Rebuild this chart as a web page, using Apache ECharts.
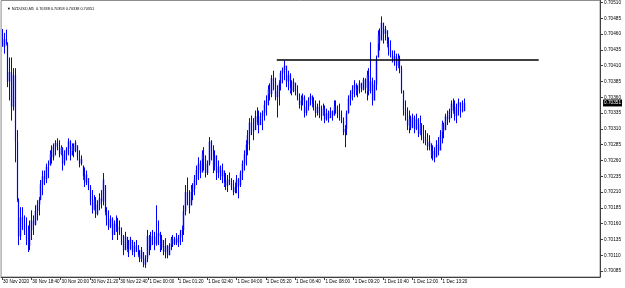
<!DOCTYPE html>
<html><head><meta charset="utf-8">
<script src="https://cdn.jsdelivr.net/npm/echarts@6/dist/echarts.min.js"></script>
<style>html,body{margin:0;padding:0;background:#fff}#c{width:625px;height:288px}</style>
</head><body><div id="c"></div>
<script>
const chartTitle = '\u25BC NZDUSD,M5  0.70338 0.70358 0.70338 0.70351';
const tickLabels = ['30 Nov 2020','30 Nov 18:40','30 Nov 20:00','30 Nov 21:20','30 Nov 22:40','1 Dec 00:00','1 Dec 01:20','1 Dec 02:40','1 Dec 04:00','1 Dec 05:20','1 Dec 06:40','1 Dec 08:00','1 Dec 09:20','1 Dec 10:40','1 Dec 12:00','1 Dec 13:20'];
const priceTicks = [0.70085,0.70110,0.70135,0.70160,0.70185,0.70210,0.70235,0.70260,0.70285,0.70310,0.70335,0.70360,0.70385,0.70410,0.70435,0.70460,0.70485,0.70510];
const levelPrice = 0.70420;
const levelFromBar = 150, levelToBar = 293;
const lastPrice = 0.70351;

const barOpen = [
0.70455,0.70440,0.70452,0.70445,0.70385,0.70400,0.70345,0.70395,0.70290,0.70197,
0.70140,0.70170,0.70160,0.70150,0.70135,0.70125,0.70150,0.70165,0.70158,0.70180,
0.70190,0.70198,0.70222,0.70235,0.70230,0.70250,0.70252,0.70270,0.70265,0.70282,
0.70288,0.70280,0.70270,0.70280,0.70255,0.70270,0.70278,0.70290,0.70268,0.70283,
0.70275,0.70284,0.70265,0.70255,0.70252,0.70235,0.70225,0.70232,0.70218,0.70195,
0.70182,0.70198,0.70175,0.70190,0.70200,0.70195,0.70221,0.70178,0.70165,0.70155,
0.70168,0.70142,0.70160,0.70150,0.70155,0.70145,0.70130,0.70118,0.70139,0.70120,
0.70120,0.70134,0.70115,0.70125,0.70120,0.70110,0.70104,0.70115,0.70095,0.70105,
0.70140,0.70125,0.70140,0.70132,0.70128,0.70140,0.70145,0.70122,0.70134,0.70115,
0.70125,0.70110,0.70125,0.70135,0.70128,0.70136,0.70130,0.70138,0.70145,0.70150,
0.70180,0.70210,0.70200,0.70189,0.70210,0.70215,0.70230,0.70245,0.70255,0.70241,
0.70270,0.70262,0.70240,0.70255,0.70290,0.70275,0.70250,0.70268,0.70240,0.70250,
0.70235,0.70244,0.70225,0.70220,0.70230,0.70225,0.70218,0.70210,0.70218,0.70230,
0.70221,0.70240,0.70255,0.70270,0.70285,0.70300,0.70320,0.70310,0.70308,0.70330,
0.70320,0.70316,0.70330,0.70335,0.70348,0.70355,0.70372,0.70365,0.70390,0.70385,
0.70360,0.70370,0.70382,0.70398,0.70403,0.70410,0.70385,0.70395,0.70375,0.70370,
0.70383,0.70368,0.70360,0.70348,0.70355,0.70360,0.70335,0.70345,0.70355,0.70362,
0.70350,0.70345,0.70335,0.70345,0.70332,0.70331,0.70342,0.70325,0.70335,0.70327,
0.70338,0.70331,0.70345,0.70340,0.70335,0.70330,0.70322,0.70305,0.70310,0.70335,
0.70358,0.70365,0.70372,0.70380,0.70370,0.70375,0.70382,0.70372,0.70388,0.70375,
0.70395,0.70370,0.70385,0.70355,0.70380,0.70423,0.70458,0.70450,0.70478,0.70460,
0.70466,0.70445,0.70435,0.70428,0.70420,0.70425,0.70410,0.70422,0.70405,0.70370,
0.70340,0.70330,0.70315,0.70325,0.70312,0.70328,0.70310,0.70325,0.70302,0.70318,
0.70298,0.70295,0.70288,0.70282,0.70287,0.70268,0.70275,0.70265,0.70285,0.70276,
0.70300,0.70318,0.70308,0.70330,0.70325,0.70338,0.70350,0.70340,0.70330,0.70345,
0.70352,0.70340,0.70338];

const barHigh = [
0.70468,0.70462,0.70467,0.70447,0.70423,0.70423,0.70406,0.70406,0.70308,0.70200,
0.70186,0.70186,0.70173,0.70170,0.70157,0.70165,0.70181,0.70173,0.70189,0.70197,
0.70202,0.70229,0.70244,0.70244,0.70255,0.70260,0.70276,0.70284,0.70287,0.70292,
0.70295,0.70292,0.70284,0.70281,0.70276,0.70281,0.70295,0.70292,0.70287,0.70287,
0.70292,0.70284,0.70276,0.70268,0.70252,0.70249,0.70244,0.70232,0.70221,0.70213,
0.70205,0.70202,0.70197,0.70208,0.70213,0.70240,0.70221,0.70186,0.70181,0.70173,
0.70170,0.70165,0.70173,0.70169,0.70165,0.70154,0.70142,0.70147,0.70139,0.70134,
0.70139,0.70134,0.70131,0.70134,0.70126,0.70118,0.70123,0.70115,0.70110,0.70150,
0.70142,0.70147,0.70150,0.70147,0.70189,0.70165,0.70147,0.70142,0.70134,0.70137,
0.70126,0.70129,0.70139,0.70142,0.70139,0.70145,0.70142,0.70150,0.70157,0.70189,
0.70221,0.70233,0.70213,0.70221,0.70224,0.70237,0.70252,0.70265,0.70260,0.70276,
0.70281,0.70268,0.70260,0.70297,0.70292,0.70284,0.70276,0.70268,0.70260,0.70252,
0.70255,0.70244,0.70240,0.70237,0.70241,0.70232,0.70229,0.70225,0.70237,0.70232,
0.70244,0.70260,0.70276,0.70292,0.70308,0.70327,0.70331,0.70327,0.70339,0.70344,
0.70339,0.70336,0.70339,0.70355,0.70363,0.70379,0.70382,0.70395,0.70402,0.70391,
0.70379,0.70387,0.70402,0.70407,0.70418,0.70410,0.70402,0.70398,0.70387,0.70390,
0.70383,0.70379,0.70366,0.70363,0.70366,0.70363,0.70355,0.70360,0.70366,0.70363,
0.70360,0.70355,0.70350,0.70355,0.70347,0.70350,0.70347,0.70342,0.70339,0.70344,
0.70339,0.70355,0.70355,0.70347,0.70350,0.70339,0.70328,0.70316,0.70339,0.70363,
0.70371,0.70379,0.70387,0.70382,0.70379,0.70387,0.70383,0.70391,0.70390,0.70402,
0.70406,0.70447,0.70391,0.70387,0.70426,0.70466,0.70469,0.70488,0.70478,0.70473,
0.70466,0.70455,0.70450,0.70434,0.70434,0.70429,0.70429,0.70426,0.70410,0.70371,
0.70355,0.70344,0.70339,0.70331,0.70334,0.70331,0.70334,0.70327,0.70331,0.70319,
0.70316,0.70308,0.70303,0.70300,0.70287,0.70284,0.70281,0.70292,0.70297,0.70308,
0.70323,0.70320,0.70334,0.70339,0.70342,0.70355,0.70358,0.70355,0.70350,0.70358,
0.70352,0.70355,0.70358];

const barLow = [
0.70440,0.70429,0.70442,0.70376,0.70355,0.70323,0.70339,0.70257,0.70194,0.70126,
0.70134,0.70150,0.70142,0.70126,0.70115,0.70118,0.70134,0.70142,0.70157,0.70165,
0.70173,0.70197,0.70205,0.70221,0.70224,0.70232,0.70252,0.70255,0.70260,0.70268,
0.70276,0.70265,0.70268,0.70244,0.70252,0.70260,0.70268,0.70260,0.70268,0.70265,
0.70273,0.70260,0.70249,0.70252,0.70229,0.70218,0.70221,0.70213,0.70189,0.70176,
0.70181,0.70169,0.70173,0.70181,0.70184,0.70189,0.70173,0.70157,0.70150,0.70153,
0.70134,0.70142,0.70147,0.70134,0.70142,0.70126,0.70110,0.70118,0.70115,0.70107,
0.70118,0.70110,0.70107,0.70115,0.70107,0.70099,0.70099,0.70091,0.70090,0.70099,
0.70110,0.70118,0.70126,0.70118,0.70125,0.70126,0.70115,0.70118,0.70110,0.70105,
0.70105,0.70110,0.70118,0.70123,0.70126,0.70126,0.70123,0.70126,0.70131,0.70142,
0.70173,0.70189,0.70176,0.70189,0.70197,0.70205,0.70221,0.70229,0.70232,0.70241,
0.70244,0.70233,0.70237,0.70252,0.70260,0.70240,0.70244,0.70229,0.70232,0.70229,
0.70224,0.70218,0.70213,0.70210,0.70221,0.70213,0.70205,0.70208,0.70208,0.70200,
0.70218,0.70229,0.70244,0.70252,0.70268,0.70276,0.70300,0.70292,0.70308,0.70316,
0.70303,0.70316,0.70308,0.70323,0.70331,0.70347,0.70355,0.70360,0.70371,0.70355,
0.70328,0.70347,0.70371,0.70382,0.70387,0.70376,0.70371,0.70366,0.70363,0.70368,
0.70363,0.70355,0.70342,0.70339,0.70347,0.70328,0.70331,0.70339,0.70347,0.70344,
0.70339,0.70328,0.70331,0.70327,0.70323,0.70331,0.70319,0.70323,0.70320,0.70327,
0.70323,0.70331,0.70334,0.70327,0.70323,0.70319,0.70300,0.70281,0.70300,0.70334,
0.70347,0.70355,0.70360,0.70363,0.70360,0.70366,0.70368,0.70371,0.70366,0.70355,
0.70363,0.70366,0.70347,0.70355,0.70371,0.70423,0.70434,0.70450,0.70445,0.70450,
0.70439,0.70426,0.70423,0.70415,0.70410,0.70402,0.70406,0.70398,0.70366,0.70331,
0.70323,0.70308,0.70303,0.70308,0.70311,0.70303,0.70308,0.70297,0.70300,0.70292,
0.70287,0.70284,0.70276,0.70276,0.70263,0.70260,0.70257,0.70265,0.70268,0.70276,
0.70287,0.70295,0.70308,0.70316,0.70320,0.70327,0.70334,0.70323,0.70319,0.70331,
0.70328,0.70336,0.70338];

const barClose = [
0.70440,0.70452,0.70445,0.70385,0.70400,0.70345,0.70395,0.70290,0.70200,0.70140,
0.70170,0.70160,0.70150,0.70135,0.70125,0.70150,0.70165,0.70158,0.70180,0.70190,
0.70198,0.70222,0.70235,0.70230,0.70250,0.70245,0.70270,0.70265,0.70282,0.70288,
0.70280,0.70270,0.70280,0.70255,0.70270,0.70278,0.70290,0.70268,0.70283,0.70275,
0.70288,0.70265,0.70255,0.70262,0.70235,0.70225,0.70238,0.70218,0.70195,0.70182,
0.70198,0.70175,0.70190,0.70200,0.70195,0.70230,0.70178,0.70165,0.70155,0.70168,
0.70142,0.70160,0.70150,0.70155,0.70145,0.70130,0.70118,0.70140,0.70120,0.70112,
0.70135,0.70115,0.70125,0.70120,0.70110,0.70104,0.70118,0.70095,0.70105,0.70140,
0.70125,0.70140,0.70132,0.70128,0.70140,0.70145,0.70122,0.70135,0.70115,0.70125,
0.70110,0.70125,0.70135,0.70128,0.70136,0.70130,0.70138,0.70145,0.70150,0.70180,
0.70210,0.70200,0.70185,0.70210,0.70215,0.70230,0.70245,0.70255,0.70240,0.70270,
0.70262,0.70240,0.70255,0.70290,0.70275,0.70250,0.70268,0.70240,0.70250,0.70235,
0.70245,0.70225,0.70220,0.70230,0.70225,0.70218,0.70210,0.70218,0.70230,0.70218,
0.70240,0.70255,0.70270,0.70285,0.70300,0.70320,0.70310,0.70305,0.70330,0.70320,
0.70315,0.70330,0.70335,0.70348,0.70355,0.70372,0.70365,0.70390,0.70385,0.70360,
0.70370,0.70382,0.70398,0.70403,0.70410,0.70385,0.70395,0.70375,0.70370,0.70385,
0.70368,0.70360,0.70348,0.70355,0.70360,0.70335,0.70345,0.70355,0.70362,0.70350,
0.70345,0.70335,0.70345,0.70332,0.70330,0.70342,0.70325,0.70335,0.70325,0.70338,
0.70330,0.70345,0.70340,0.70335,0.70330,0.70322,0.70305,0.70310,0.70335,0.70358,
0.70365,0.70372,0.70380,0.70370,0.70375,0.70382,0.70372,0.70388,0.70375,0.70395,
0.70370,0.70385,0.70355,0.70380,0.70420,0.70458,0.70445,0.70478,0.70460,0.70468,
0.70445,0.70435,0.70428,0.70420,0.70425,0.70410,0.70422,0.70405,0.70370,0.70340,
0.70330,0.70315,0.70325,0.70312,0.70328,0.70310,0.70325,0.70302,0.70318,0.70298,
0.70295,0.70288,0.70282,0.70290,0.70268,0.70275,0.70262,0.70285,0.70275,0.70300,
0.70318,0.70305,0.70330,0.70325,0.70338,0.70350,0.70340,0.70330,0.70345,0.70352,
0.70338,0.70338,0.70351];

// time slots of the M5 axis (includes the empty shift area on the right)
const slotCount = 327;
const categories = [];
for (let i = 0; i < slotCount; i++) {
  const t = new Date(Date.UTC(2020, 10, 30, 17, 20) + i * 300000);
  categories.push(t.toISOString().slice(0, 16));
}
const bars = barOpen.map((o, i) => [i, o, barHigh[i], barLow[i], barClose[i]]);

const FONT = 'Liberation Sans';
const Y_MIN = 0.700755, Y_MAX = 0.705132;
const showTick = (idx) => idx % 16 === 0 && idx / 16 < tickLabels.length;

const chart = echarts.init(document.getElementById('c'), null, {renderer: 'canvas'});
chart.setOption({
  animation: false,
  backgroundColor: '#ffffff',
  title: {
    text: chartTitle, left: 2, top: 2,
    textStyle: {fontSize: 3.8, fontWeight: 'normal', color: '#000', fontFamily: FONT}
  },
  grid: {left: 1, right: 22, top: 0, bottom: 11, show: true, borderColor: '#8a8a8a', borderWidth: 1},
  xAxis: {
    type: 'category', data: categories, boundaryGap: true,
    axisLine: {show: true, lineStyle: {color: '#404040', width: 1}},
    axisTick: {show: true, alignWithLabel: true, length: 3, lineStyle: {color: '#404040'}, interval: showTick},
    axisLabel: {
      interval: showTick, showMinLabel: true,
      formatter: (v, idx) => tickLabels[idx / 16] || '',
      align: 'left', margin: 2, fontSize: 4.6, color: '#000', fontFamily: FONT, padding: [0, 0, 0, 1]
    },
    splitLine: {show: false}
  },
  yAxis: [{
    type: 'value', position: 'right', min: Y_MIN, max: Y_MAX, scale: true,
    axisLine: {show: true, lineStyle: {color: '#404040', width: 1}},
    axisTick: {show: true, length: 3, customValues: priceTicks, lineStyle: {color: '#404040'}},
    axisLabel: {customValues: priceTicks, formatter: (v) => v.toFixed(5), fontSize: 4.7, margin: 4, color: '#000', fontFamily: FONT},
    splitLine: {show: false}
  }, {
    type: 'value', position: 'right', offset: 0, min: Y_MIN, max: Y_MAX, scale: true,
    axisLine: {show: false}, axisTick: {show: false}, splitLine: {show: false},
    axisLabel: {customValues: [lastPrice], formatter: (v) => v.toFixed(5), fontSize: 4.7, margin: 3,
      color: '#fff', backgroundColor: '#000', padding: [1, 1, 1, 1], fontFamily: FONT}
  }],
  series: [{
    type: 'custom',
    clip: false,
    data: bars,
    encode: {x: 0, y: [1, 2, 3, 4]},
    renderItem: (params, api) => {
      const i = api.value(0);
      const pO = api.coord([i, api.value(1)]);
      const pH = api.coord([i, api.value(2)]);
      const pL = api.coord([i, api.value(3)]);
      const pC = api.coord([i, api.value(4)]);
      const x = Math.round(pH[0]) + 0.5;
      const up = api.value(4) >= api.value(1);
      const top = Math.min(pO[1], pC[1]);
      const h = Math.max(1, Math.abs(pO[1] - pC[1]));
      return {type: 'group', children: [
        {type: 'rect', shape: {x: x - 0.8, y: top, width: 1.6, height: h},
         style: {fill: up ? '#4646ff' : '#b0b0ff'}},
        {type: 'line', shape: {x1: x, y1: pH[1], x2: x, y2: pL[1]},
         style: {stroke: '#0000ff', lineWidth: 1}}
      ]};
    },
    markLine: {
      silent: true, symbol: 'none', animation: false,
      data: [
        [{coord: [levelFromBar, levelPrice], lineStyle: {color: '#000', width: 1.5, type: 'solid'}, label: {show: false}},
         {coord: [levelToBar, levelPrice]}]
      ]
    }
  }]
});
</script></body></html>
